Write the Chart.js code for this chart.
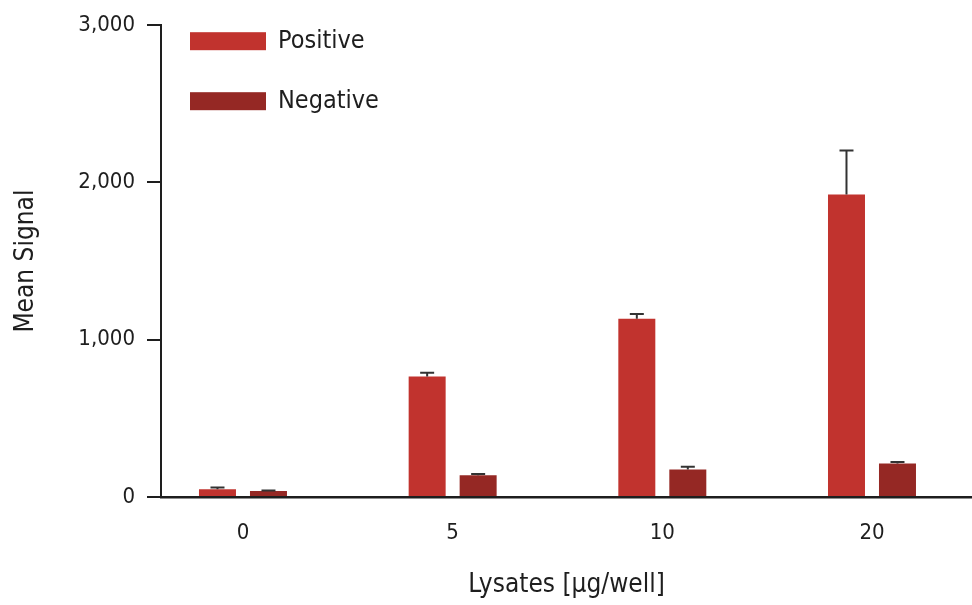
<!DOCTYPE html>
<html>
<head>
<meta charset="utf-8">
<script src="https://cdn.jsdelivr.net/npm/chart.js@4/dist/chart.umd.min.js"></script>
<style>
html,body{margin:0;padding:0;background:#fff;}
#wrap{width:972px;height:605px;}
</style>
</head>
<body>
<div id="wrap"><canvas id="c" width="972" height="605"></canvas></div>
<script>
const categories = ["0", "5", "10", "20"];
const positiveValues = [50, 766, 1133, 1924];
const positiveErrors = [10, 24, 30, 280];
const negativeValues = [38, 139, 175, 213];
const negativeErrors = [3, 8, 18, 9];
const yTicks = [0, 1000, 2000, 3000];

const FONT = '"DejaVu Sans Condensed", "Liberation Sans", sans-serif';
const INK = '#1e1e1e';

function toPoints(vals){ return vals.map((v,i)=>({x:i, y:v})); }

const errorBarPlugin = {
  id: 'errorBars',
  afterDatasetsDraw(chart){
    const ctx = chart.ctx;
    const y = chart.scales.y;
    ctx.save();
    ctx.strokeStyle = '#333';
    ctx.lineWidth = 2;
    chart.data.datasets.forEach((ds, di)=>{
      const meta = chart.getDatasetMeta(di);
      meta.data.forEach((bar, i)=>{
        const top = y.getPixelForValue(ds.data[i].y + ds.errors[i]);
        const base = bar.y;
        ctx.beginPath();
        ctx.moveTo(bar.x, base);
        ctx.lineTo(bar.x, top);
        ctx.moveTo(bar.x - 7, top);
        ctx.lineTo(bar.x + 7, top);
        ctx.stroke();
      });
    });
    ctx.restore();
  }
};

const legendPlugin = {
  id: 'insideLegend',
  afterDraw(chart){
    const ctx = chart.ctx;
    const a = chart.chartArea;
    ctx.save();
    ctx.font = '25px ' + FONT;
    ctx.textBaseline = 'middle';
    ctx.textAlign = 'left';
    chart.data.datasets.forEach((ds, i)=>{
      const bx = a.left + 29, by = a.top + 7 + i*60;
      ctx.fillStyle = ds.backgroundColor;
      ctx.fillRect(bx, by, 76, 18);
      ctx.fillStyle = INK;
      ctx.fillText(ds.label, bx + 88, by + 9);
    });
    ctx.restore();
  }
};

new Chart(document.getElementById('c'), {
  type: 'bar',
  data: {
    datasets: [
      {label: 'Positive', data: toPoints(positiveValues), errors: positiveErrors,
       backgroundColor: '#c1332e', borderWidth: 0},
      {label: 'Negative', data: toPoints(negativeValues), errors: negativeErrors,
       backgroundColor: '#952824', borderWidth: 0}
    ]
  },
  options: {
    responsive: false,
    animation: false,
    devicePixelRatio: 1,
    categoryPercentage: 0.4864,
    barPercentage: 0.7255,
    layout: {padding: {top: 23, right: 0, bottom: 0, left: 0}},
    plugins: {legend: {display: false}, tooltip: {enabled: false}},
    scales: {
      x: {
        type: 'linear',
        offset: false,
        min: -0.391,
        max: 3.477,
        afterBuildTicks(scale){ scale.ticks = categories.map((c,i)=>({value:i})); },
        afterFit(scale){ scale.height = 108; },
        grid: {display: false, drawTicks: false, offset: false},
        border: {display: true, color: INK, width: 2.5},
        ticks: {
          callback: (v)=> categories[v],
          font: {family: FONT, size: 22},
          color: INK,
          padding: 23,
          maxRotation: 0
        },
        title: {
          display: true,
          text: 'Lysates [µg/well]',
          font: {family: FONT, size: 26},
          color: INK,
          padding: {top: 0, bottom: 4}
        }
      },
      y: {
        min: 0,
        max: 3000,
        afterBuildTicks(scale){ scale.ticks = yTicks.map(v=>({value:v})); },
        afterFit(scale){ scale.width = 161; },
        grid: {drawOnChartArea: false, drawTicks: true, tickLength: 14, color: INK, lineWidth: 2},
        border: {display: true, color: INK, width: 2},
        ticks: {
          callback: (v)=> v.toLocaleString('en-US'),
          font: {family: FONT, size: 22},
          color: INK,
          padding: 12
        },
        title: {
          display: true,
          text: 'Mean Signal',
          font: {family: FONT, size: 26},
          color: INK,
          padding: {top: 11, bottom: 0}
        }
      }
    }
  },
  plugins: [errorBarPlugin, legendPlugin]
});
</script>
</body>
</html>
